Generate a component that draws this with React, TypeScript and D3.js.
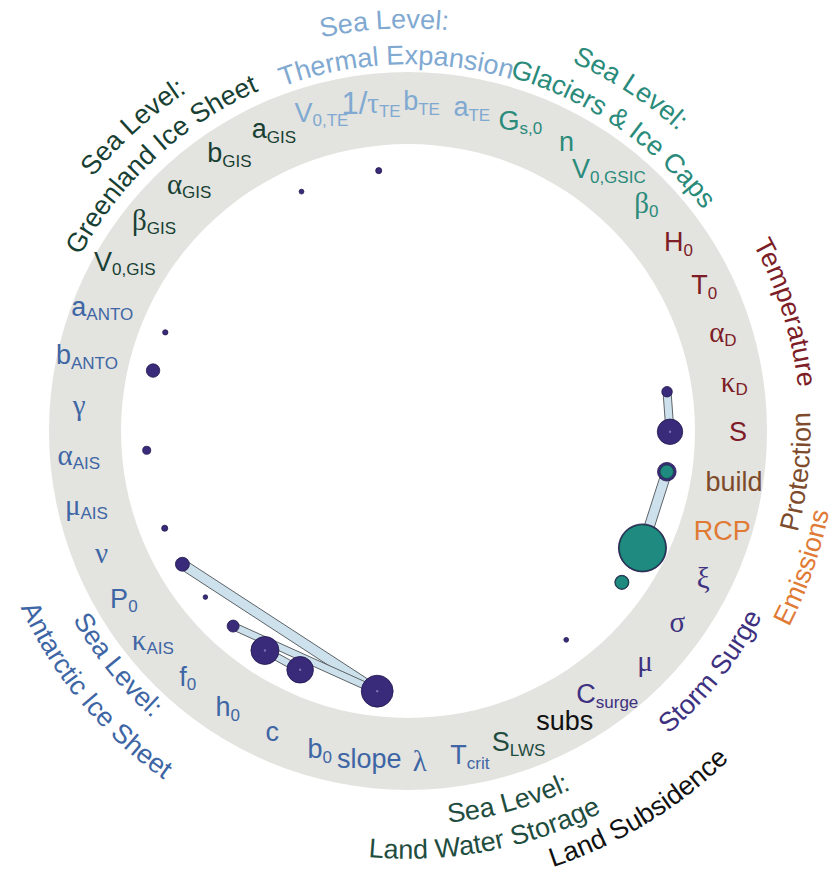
import React, { useEffect, useRef } from "react";
import * as d3 from "d3";

// parameters, clockwise from the top of the wheel
const paramMain = ["V", "1/τ", "b", "a", "G", "n", "V", "β", "H", "T", "α", "κ", "S", "build", "RCP", "ξ", "σ", "μ", "C", "subs", "S", "T", "λ", "slope", "b", "c", "h", "f", "κ", "P", "ν", "μ", "α", "γ", "b", "a", "V", "β", "α", "b", "a"];
const paramSub = ["0,TE", "TE", "TE", "TE", "s,0", "", "0,GSIC", "0", "0", "0", "D", "D", "", "", "", "", "", "", "surge", "", "LWS", "crit", "", "", "0", "", "0", "0", "AIS", "0", "", "AIS", "AIS", "", "ANTO", "ANTO", "0,GIS", "GIS", "GIS", "GIS", "GIS"];
const paramGroup = [0, 0, 0, 0, 1, 1, 1, 1, 2, 2, 2, 2, 2, 3, 4, 5, 5, 5, 5, 6, 7, 8, 8, 8, 8, 8, 8, 8, 8, 8, 8, 8, 8, 8, 8, 8, 9, 9, 9, 9, 9];

const groupNames = [
  ["Sea Level:", "Thermal Expansion"],
  ["Sea Level:", "Glaciers & Ice Caps"],
  ["Temperature"],
  ["Protection"],
  ["Emissions"],
  ["Storm Surge"],
  ["Land Subsidence"],
  ["Sea Level:", "Land Water Storage"],
  ["Sea Level:", "Antarctic Ice Sheet"],
  ["Sea Level:", "Greenland Ice Sheet"],
];
const groupColors = ["#7fa9d1", "#2a8b7b", "#7d1d27", "#7d4b2b", "#e07a35", "#3d3180", "#111111", "#1f4d40", "#3e66a5", "#183f33"];

// total-order indices (dark circles)
const totalParams = ["1/τTE", "κD", "S", "build", "ξ", "σ", "Csurge", "slope", "c", "h0", "f0", "κAIS", "P0", "ν", "αAIS", "bANTO", "aANTO", "aGIS"];
const totalValues = [0.008, 0.024, 0.14, 0.075, 0.5, 0.043, 0.005, 0.22, 0.153, 0.17, 0.031, 0.0045, 0.042, 0.008, 0.014, 0.039, 0.006, 0.005];

// first-order indices (filled teal circles)
const firstParams = ["S", "build", "ξ", "σ", "slope", "c", "h0"];
const firstValues = [0.0012, 0.039, 0.46, 0.037, 0.0012, 0.0012, 0.0012];

// second-order indices (bands)
const secondFrom = ["P0", "f0", "h0", "κD", "build"];
const secondTo = ["slope", "slope", "c", "S", "ξ"];
const secondValues = [0.05, 0.036, 0.036, 0.04, 0.05];

// placement of the group titles (text-centre radius, angle shift in degrees)
const groupLayout = [
  { r: [412, 376], shift: [-1.3, 0.2] },
  { r: [413, 378], shift: [-0.1, 1.5] },
  { r: [402], shift: [0] },
  { r: [393], shift: [-3] },
  { r: [419], shift: [1.3] },
  { r: [390], shift: [-1.2] },
  { r: [450], shift: [-3] },
  { r: [384, 418], shift: [4.4, 8.8] },
  { r: [375, 416], shift: [0.5, -0.4] },
  { r: [414, 381], shift: [-0.6, -1.2] },
];

const W = 838;
const H = 888;
const cx = 408;
const cy = 431;
const sans = "'Liberation Sans', Arial, Helvetica, sans-serif";
const serif = "'Liberation Serif', 'Times New Roman', serif";

const App = () => {
  const svgRef = useRef<SVGSVGElement>(null);

  useEffect(() => {
    const svg = d3.select(svgRef.current).attr("width", W).attr("height", H);
    svg.selectAll("*").remove();

    const keys = paramMain.map((m, i) => m + paramSub[i]);
    const n = keys.length;
    const deg = Math.PI / 180;
    const angle = d3.scaleLinear().domain([0, n]).range([-15.2 * deg, 344.8 * deg]);
    const rNode = d3.scaleSqrt().domain([0, 1]).range([0, 34]);
    const bandWidth = d3.scaleLinear().domain([0, 0.05]).range([0, 10]);
    const nodeRadius = 262;

    const pos = (key: string, R: number) => {
      const a = angle(keys.indexOf(key));
      return [cx + R * Math.sin(a), cy - R * Math.cos(a)];
    };

    const g = svg.append("g");

    // grey ring
    const ring = d3.arc()({ innerRadius: 287, outerRadius: 359, startAngle: 0, endAngle: 2 * Math.PI } as any);
    g.append("path")
      .attr("d", ring as string)
      .attr("transform", `translate(${cx},${cy})`)
      .attr("fill", "#e3e3df");

    // parameter labels
    const labels = g.selectAll("text.param")
      .data(keys)
      .join("text")
      .attr("class", "param")
      .attr("x", (d) => pos(d, 330)[0])
      .attr("y", (d) => pos(d, 330)[1])
      .attr("text-anchor", "middle")
      .attr("dominant-baseline", "central")
      .attr("font-family", sans)
      .attr("font-size", 27)
      .attr("fill", (d, i) => groupColors[paramGroup[i]]);

    labels.each(function (d, i) {
      const t = d3.select(this);
      const main = paramMain[i];
      // split greek and latin runs
      const runs: string[] = main.match(/[\u0370-\u03ff]+|[^\u0370-\u03ff]+/g) || [];
      runs.forEach((run) => {
        const greek = /[\u0370-\u03ff]/.test(run);
        t.append("tspan")
          .attr("font-family", greek ? serif : sans)
          .attr("font-size", greek ? 29 : run.includes("/") ? 31 : 27)
          .text(run);
      });
      if (paramSub[i]) {
        t.append("tspan")
          .attr("font-size", 17)
          .attr("dy", "0.45em")
          .text(paramSub[i]);
      }
    });

    // group titles on arcs
    const defs = svg.append("defs");
    groupNames.forEach((lines, gi) => {
      const idx = paramGroup.map((p, i) => (p === gi ? i : -1)).filter((i) => i >= 0);
      const mid = angle((idx[0] + idx[idx.length - 1]) / 2);
      const cw = Math.cos(mid) > 0;
      lines.forEach((line, li) => {
        const th = mid + groupLayout[gi].shift[li] * deg;
        const R = groupLayout[gi].r[li] + (cw ? -9.5 : 9.5);
        const p = d3.path();
        if (cw) {
          const a0 = th - Math.PI;
          p.moveTo(cx + R * Math.cos(a0), cy + R * Math.sin(a0));
          p.arc(cx, cy, R, a0, th, false);
        } else {
          const a1 = th - Math.PI;
          p.moveTo(cx + R * Math.cos(th), cy + R * Math.sin(th));
          p.arc(cx, cy, R, th, a1, true);
        }
        const id = `grp-${gi}-${li}`;
        defs.append("path").attr("id", id).attr("d", p.toString());
        g.append("text")
          .attr("font-family", sans)
          .attr("font-size", 27)
          .attr("fill", groupColors[gi])
          .append("textPath")
          .attr("href", `#${id}`)
          .attr("startOffset", "50%")
          .attr("text-anchor", "middle")
          .text(line);
      });
    });

    // second-order bands
    const bands = secondFrom.map((f, i) => ({ a: pos(f, nodeRadius), b: pos(secondTo[i], nodeRadius), w: bandWidth(secondValues[i]) }));
    g.selectAll("path.band")
      .data(bands)
      .join("path")
      .attr("class", "band")
      .attr("d", (d) => {
        const dx = d.b[0] - d.a[0];
        const dy = d.b[1] - d.a[1];
        const len = Math.hypot(dx, dy);
        const nx = (-dy / len) * (d.w / 2);
        const ny = (dx / len) * (d.w / 2);
        return `M${d.a[0] + nx},${d.a[1] + ny}L${d.b[0] + nx},${d.b[1] + ny}L${d.b[0] - nx},${d.b[1] - ny}L${d.a[0] - nx},${d.a[1] - ny}Z`;
      })
      .attr("fill", "#cde1ec")
      .attr("stroke", "#4d5257")
      .attr("stroke-width", 0.9);

    // total-order circles
    g.selectAll("circle.total")
      .data(totalParams)
      .join("circle")
      .attr("class", "total")
      .attr("cx", (d) => pos(d, nodeRadius)[0])
      .attr("cy", (d) => pos(d, nodeRadius)[1])
      .attr("r", (d, i) => rNode(totalValues[i]))
      .attr("fill", "#392a7a")
      .attr("stroke", "#22184d")
      .attr("stroke-width", 0.8);

    // first-order circles
    g.selectAll("circle.first")
      .data(firstParams)
      .join("circle")
      .attr("class", "first")
      .attr("cx", (d) => pos(d, nodeRadius)[0])
      .attr("cy", (d) => pos(d, nodeRadius)[1])
      .attr("r", (d, i) => rNode(firstValues[i]))
      .attr("fill", (d, i) => (firstValues[i] < 0.005 ? "#7a72b0" : "#1f8b80"))
      .attr("stroke", (d, i) => (firstValues[i] < 0.005 ? "none" : "#15423f"))
      .attr("stroke-width", 0.8);
  }, []);

  return (
    <svg ref={svgRef} style={{ position: "absolute", left: 0, top: 0, background: "#fff" }}></svg>
  );
};

export default App;
